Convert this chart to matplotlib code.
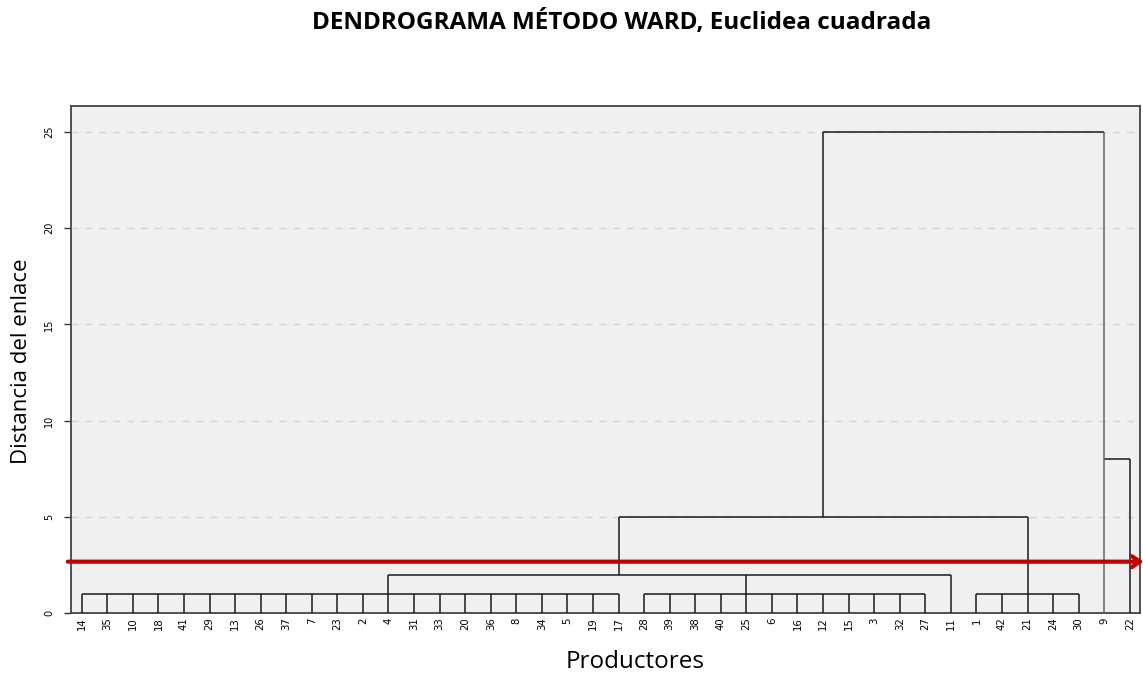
import matplotlib
matplotlib.use("Agg")
import matplotlib.pyplot as plt

# ---------------- data ----------------
leaves = ["14", "35", "10", "18", "41", "29", "13", "26", "37", "7", "23", "2", "4", "31",
          "33", "20", "36", "8", "34", "5", "19", "17", "28", "39", "38", "40", "25", "6",
          "16", "12", "15", "3", "32", "27", "11", "1", "42", "21", "24", "30", "9", "22"]

# first-level groups: leaves from group_first to group_last joined at group_height
group_first = ["14", "28", "1"]
group_last = ["17", "27", "30"]
group_height = [1.0, 1.0, 1.0]

# higher merges: horizontal span, height, and legs (leaf, bottom of leg)
merge_from = ["4", "17", "9", "12"]
merge_to = ["11", "21", "22", "9"]
merge_height = [2.0, 5.0, 8.0, 25.0]
merge_legs = [[("4", 1.0), ("25", 1.0), ("11", 0.0)],
              [("17", 2.0), ("21", 1.0)],
              [("22", 0.0)],
              [("12", 5.0), ("9", 0.0)]]

cut_height = 2.68
y_ticks = [0, 5, 10, 15, 20, 25]

title = "DENDROGRAMA MÉTODO WARD, Euclidea cuadrada"
xlabel = "Productores"
ylabel = "Distancia del enlace"

# ---------------- plot ----------------
pos = {lab: i for i, lab in enumerate(leaves)}
W, H = 1143, 673
fig = plt.figure(figsize=(W / 100, H / 100), dpi=100)
ax = fig.add_axes([71 / W, (H - 613.3) / H, (1140 - 71) / W, (613.3 - 105.7) / H])
ax.set_facecolor("#f0f0f0")

lc = "#1a1a1a"
lw = 1.1

for f, l, h in zip(group_first, group_last, group_height):
    i0, i1 = pos[f], pos[l]
    ax.plot([i0, i1], [h, h], color=lc, lw=lw, zorder=3, solid_capstyle="butt")
    for i in range(i0, i1 + 1):
        ax.plot([i, i], [0, h], color=lc, lw=lw, zorder=3, solid_capstyle="butt")

for f, t, h, legs in zip(merge_from, merge_to, merge_height, merge_legs):
    ax.plot([pos[f], pos[t]], [h, h], color=lc, lw=lw, zorder=3, solid_capstyle="butt")
    for lab, b in legs:
        c = "#666666" if lab == "9" else lc
        ax.plot([pos[lab], pos[lab]], [b, h], color=c, lw=lw, zorder=3, solid_capstyle="butt")

ax.set_xlim(-0.42, 41.4)
ax.set_ylim(0, 26.35)

ax.set_yticks(y_ticks)
ax.set_yticklabels([str(v) for v in y_ticks], rotation=90, va="center", fontsize=7,
                   family="DejaVu Sans")
ax.set_xticks(range(len(leaves)))
ax.set_xticklabels(leaves, rotation=90, fontsize=7.3, family="DejaVu Sans")
ax.tick_params(axis="x", length=0, pad=3)
ax.tick_params(axis="y", length=5, pad=7, color="#333333", width=1)

for v in y_ticks[1:]:
    ax.axhline(v, color="#d4d4d4", lw=1, ls=(0, (5, 5)), zorder=1)

for s in ax.spines.values():
    s.set_color("#444444")
    s.set_linewidth(1.3)

ax.annotate("", xy=(1.0035, cut_height), xycoords=("axes fraction", "data"),
            xytext=(-0.003, cut_height), textcoords=("axes fraction", "data"),
            arrowprops=dict(arrowstyle="->,head_length=0.6,head_width=0.4",
                            color="#c00000", lw=3, shrinkA=0, shrinkB=0),
            annotation_clip=False, zorder=5)

fig.text(622 / W, 1 - 23 / H, title, ha="center", va="center", fontsize=17.5,
         fontweight="bold", family="Open Sans")
fig.text(22 / W, 1 - 361 / H, ylabel, ha="center", va="center", rotation=90,
         fontsize=16, family="Open Sans")
fig.text(635 / W, 1 - 662 / H, xlabel, ha="center", va="center", fontsize=17.5,
         family="Open Sans")

fig.savefig("out.png", dpi=100, facecolor="white")
